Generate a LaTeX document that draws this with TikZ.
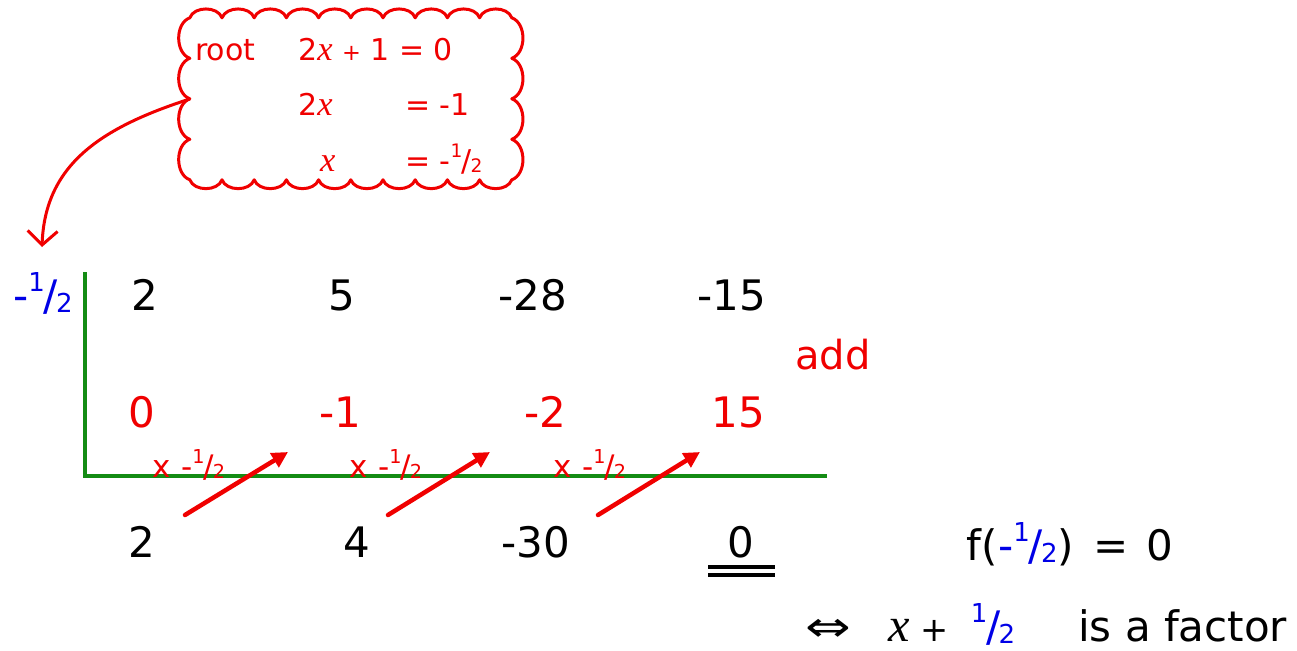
\documentclass[tikz,border=0pt]{standalone}
\usepackage{fontspec}
\setmainfont{DejaVu Sans}
\newfontfamily\serx{Liberation Serif}
\usepackage{graphicx}
\usetikzlibrary{arrows.meta,calc}
\definecolor{myred}{RGB}{240,0,0}
\definecolor{myblue}{RGB}{0,0,230}
\definecolor{mygreen}{RGB}{20,140,20}
\newcommand\hlf{\raisebox{0.45em}{\scalebox{0.62}{1}}\kern-0.03em/\kern-0.04em\raisebox{-0.05em}{\scalebox{0.62}{2}}}
\newcommand\vx{{\serx\itshape\scalebox{1.15}{x}}}
\begin{document}
\begin{tikzpicture}[x=1pt,y=-1pt,
  big/.style={font=\fontsize{42}{50}\selectfont, inner sep=0pt, anchor=base},
  cl/.style={font=\fontsize{30}{36}\selectfont, text=myred, inner sep=0pt, anchor=base west},
  sm/.style={font=\fontsize{31}{36}\selectfont, text=myred, inner sep=0pt, anchor=base},
  grn/.style={draw=mygreen, line width=4.5pt},
  mul/.style={draw=myred, line width=4.5pt, line cap=round, -{Triangle[length=16pt,width=16pt]}},
  cloudline/.style={draw=myred, line width=3pt, line join=round},
]
\useasboundingbox (0,0) rectangle (1297,650);

% cloud
\node[minimum width=322pt, minimum height=162pt, inner sep=0pt] (cloud) at (351,99) {};
\draw[cloudline] (cloud.north west)
  foreach \i in {1,...,10}{ to[bend left=70] ++(32.2,0)}
  foreach \i in {1,...,4}{ to[bend left=70] ++(0,40.5)}
  foreach \i in {1,...,10}{ to[bend left=70] ++(-32.2,0)}
  foreach \i in {1,...,4}{ to[bend left=70] ++(0,-40.5)} -- cycle;
\node[cl] (rootw) at (195,61) {root};
\node[cl] (eq1) at (298,61) {2\vx\ \scalebox{0.75}{+} 1 = 0};
\node[cl] (eq2l) at (298,115) {2\vx};
\node[cl] (eq2r) at (405,115) {= -1};
\node[cl] (eq3l) at (320,171) {\vx};
\node[cl] (eq3r) at (405,171) {= -\hlf};

% root label and arrow
\node[big, text=myblue] (root) at (43,310) {-\hlf};
\coordinate (tip) at (42,247);
\draw[myred, line width=3pt, -{Straight Barb[length=14pt,width=30pt,line width=3pt]}]
  (cloud.west) .. controls (100,128) and (45,165) .. (tip);

% green frame
\coordinate (gtop) at (85,272);
\coordinate (gcorner) at (85,476);
\coordinate (gend) at (827,476);
\draw[grn] (gtop) -- (gcorner) -- (gend);

% row 1
\node[big] (r1a) at (145,310) {2};
\node[big] (r1b) at (342,310) {5};
\node[big] (r1c) at (533,310) {-28};
\node[big] (r1d) at (732,310) {-15};
\node[font=\fontsize{40}{48}\selectfont, text=myred, inner sep=0pt, anchor=base] (add) at (833,369) {add};

% row 2
\node[big, text=myred] (r2a) at (142,427) {0};
\node[big, text=myred] (r2b) at (340,427) {-1};
\node[big, text=myred] (r2c) at (545,427) {-2};
\node[big, text=myred] (r2d) at (738,427) {15};

% multiplier labels
\node[sm] (m1) at (189,477) {x -\hlf};
\node[sm] (m2) at (386,477) {x -\hlf};
\node[sm] (m3) at (590,477) {x -\hlf};

% multiplier arrows
\coordinate (s1) at (185,515); \coordinate (e1) at (288,452);
\coordinate (s2) at (388,515); \coordinate (e2) at (490,452);
\coordinate (s3) at (598,515); \coordinate (e3) at (700,452);
\draw[mul] (s1) -- (e1);
\draw[mul] (s2) -- (e2);
\draw[mul] (s3) -- (e3);

% row 3
\node[big] (r3a) at (142,557) {2};
\node[big] (r3b) at (357,557) {4};
\node[big] (r3c) at (536,557) {-30};
\node[big] (r3d) at (741,557) {0};
\draw[line width=4pt] ($(r3d.base)+(-33,10)$) -- ++(67,0);
\draw[line width=4pt] ($(r3d.base)+(-33,18)$) -- ++(67,0);

% conclusion
\node[big] (fval) at (1070,560) {f(\textcolor{myblue}{-\hlf})\hspace{0.15em} = \hspace{0.1em}0};
\node[big] (iff) at (828,641) {\scalebox{1.3}[1]{⇔}};
\node[big] (xv) at (899,641) {\vx};
\node[big] (plus) at (935,641) {\scalebox{0.8}{+}};
\node[big, text=myblue] (half) at (993,641) {\hlf};
\node[big, anchor=base west] (fac) at (1078,641) {is a factor};
\end{tikzpicture}
\end{document}
